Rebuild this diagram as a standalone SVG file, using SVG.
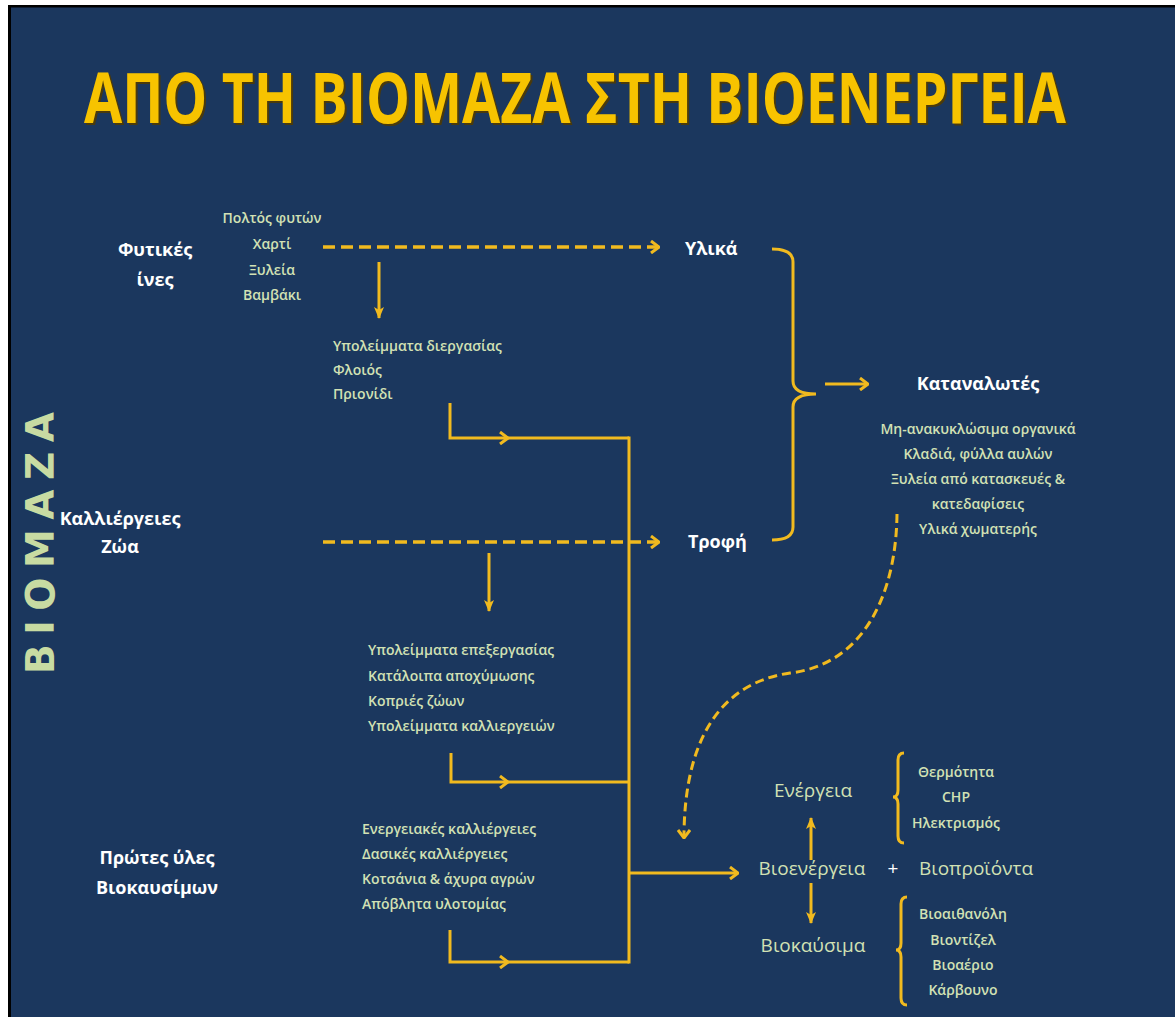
<svg xmlns="http://www.w3.org/2000/svg" width="1175" height="1017" viewBox="0 0 1175 1017">
<defs>
<style>
.bg{fill:#1b375e}
.ln{fill:none;stroke:#f1ba1f;stroke-width:3}
.dash{fill:none;stroke:#f1ba1f;stroke-width:3.5;stroke-dasharray:12 6}
.cdash{fill:none;stroke:#f1ba1f;stroke-width:3;stroke-dasharray:9 5}
.w{font-family:"Open Sans","Liberation Sans",sans-serif;font-weight:700;font-size:18px;fill:#ffffff}
.g{font-family:"Open Sans","Liberation Sans",sans-serif;font-weight:600;font-size:14px;fill:#d2e1b4}
.gl{font-family:"Open Sans","Liberation Sans",sans-serif;font-weight:500;font-size:19px;fill:#d2e1b4}
.mid{text-anchor:middle}
.ttl{font-family:"Open Sans","Liberation Sans",sans-serif;font-weight:700;font-size:70px}
</style>
<marker id="chev" markerUnits="userSpaceOnUse" viewBox="0 0 10 14" refX="9" refY="7" markerWidth="10" markerHeight="14" orient="auto">
<path d="M1,1 L9,7 L1,13" fill="none" stroke="#f1ba1f" stroke-width="3"/>
</marker>
<marker id="tri" markerUnits="userSpaceOnUse" viewBox="0 0 12 10" refX="11" refY="5" markerWidth="12" markerHeight="10" orient="auto">
<path d="M0,0 L12,5 L0,10 L3,5 z" fill="#f1ba1f"/>
</marker>
</defs>
<rect x="0" y="0" width="1175" height="1017" fill="#ffffff"/>
<rect x="8" y="5" width="1167" height="1012" fill="#000000"/>
<rect class="bg" x="11" y="7.5" width="1164" height="1010"/>

<g id="title">
<text class="ttl" transform="translate(86,125) scale(0.74,1)" x="0" y="0" textLength="1327" lengthAdjust="spacingAndGlyphs" fill="#4a3a0c">ΑΠΟ ΤΗ ΒΙΟΜΑΖΑ ΣΤΗ ΒΙΟΕΝΕΡΓΕΙΑ</text>
<text class="ttl" transform="translate(84,123) scale(0.74,1)" x="0" y="0" textLength="1327" lengthAdjust="spacingAndGlyphs" fill="#f7c300">ΑΠΟ ΤΗ ΒΙΟΜΑΖΑ ΣΤΗ ΒΙΟΕΝΕΡΓΕΙΑ</text>
</g>

<g id="biomaza">
<text transform="translate(54,543) rotate(-90)" text-anchor="middle" textLength="262" lengthAdjust="spacing" font-family="DejaVu Sans, Verdana, sans-serif" font-weight="700" font-size="39" fill="#c8dba2">ΒΙΟΜΑΖΑ</text>
</g>

<g id="connectors">
<path class="dash" d="M323 247 H659" marker-end="url(#chev)"/>
<path class="dash" d="M323 542 H659" marker-end="url(#chev)"/>
<path class="ln" d="M379 262 V318" marker-end="url(#tri)"/>
<path class="ln" d="M489 553 V611" marker-end="url(#tri)"/>
<path class="ln" d="M450 403 V438 H508" marker-end="url(#chev)"/>
<path class="ln" d="M506 438 H629"/>
<path class="ln" d="M451 753 V782 H508" marker-end="url(#chev)"/>
<path class="ln" d="M506 782 H629"/>
<path class="ln" d="M450 930 V962 H508" marker-end="url(#chev)"/>
<path class="ln" d="M506 962 H629"/>
<path class="ln" d="M629 436.5 V963.5"/>
<path class="ln" d="M629 873 H738" marker-end="url(#chev)"/>
<path class="ln" d="M825 384 H868" marker-end="url(#chev)"/>
<path class="cdash" d="M897 514 C896 600 860 665 790 673 C720 683 684 740 684 838" marker-end="url(#chev)"/>
<path class="ln" d="M811 860 V818" marker-end="url(#tri)"/>
<path class="ln" d="M811 883 V923" marker-end="url(#tri)"/>
</g>

<g id="brace-main">
<path class="ln" d="M772 249 Q793 249 793 262 V381 Q793 394 816 394 Q793 394 793 407 V527 Q793 540 772 540"/>
</g>
<g id="brace-energy">
<path class="ln" d="M904 753 Q898 753 898 760 V790 Q898 797 893 797 Q898 797 898 804 V836 Q898 843 904 843"/>
</g>
<g id="brace-fuels">
<path class="ln" d="M907 897 Q901 897 901 904 V943 Q901 950 896 950 Q901 950 901 957 V998 Q901 1005 907 1005"/>
</g>

<g id="fytikes-ines">
<text class="w mid" x="155" y="256">Φυτικές</text>
<text class="w mid" x="155" y="286">ίνες</text>
</g>
<g id="fytikes-products">
<text class="g mid" x="272" y="223">Πολτός φυτών</text>
<text class="g mid" x="272" y="249">Χαρτί</text>
<text class="g mid" x="272" y="275">Ξυλεία</text>
<text class="g mid" x="272" y="300">Βαμβάκι</text>
</g>
<g id="ypoleimmata-diergasias">
<text class="g" x="333" y="351">Υπολείμματα διεργασίας</text>
<text class="g" x="333" y="375">Φλοιός</text>
<text class="g" x="333" y="399">Πριονίδι</text>
</g>
<g id="ylika"><text class="w" x="685" y="255">Υλικά</text></g>
<g id="trofi"><text class="w" x="688" y="548">Τροφή</text></g>
<g id="kalliergeies-zoa">
<text class="w mid" x="120" y="525">Καλλιέργειες</text>
<text class="w mid" x="120" y="553">Ζώα</text>
</g>
<g id="ypoleimmata-epexergasias">
<text class="g" x="368" y="655">Υπολείμματα επεξεργασίας</text>
<text class="g" x="368" y="681">Κατάλοιπα αποχύμωσης</text>
<text class="g" x="368" y="706">Κοπριές ζώων</text>
<text class="g" x="368" y="731">Υπολείμματα καλλιεργειών</text>
</g>
<g id="protes-yles">
<text class="w mid" x="157" y="864">Πρώτες ύλες</text>
<text class="w mid" x="157" y="894">Βιοκαυσίμων</text>
</g>
<g id="energeiakes">
<text class="g" x="362" y="834">Ενεργειακές καλλιέργειες</text>
<text class="g" x="362" y="859">Δασικές καλλιέργειες</text>
<text class="g" x="362" y="884">Κοτσάνια &amp; άχυρα αγρών</text>
<text class="g" x="362" y="909">Απόβλητα υλοτομίας</text>
</g>
<g id="katanalotes">
<text class="w mid" x="978" y="390">Καταναλωτές</text>
<text class="g mid" x="978" y="434">Μη-ανακυκλώσιμα οργανικά</text>
<text class="g mid" x="978" y="459">Κλαδιά, φύλλα αυλών</text>
<text class="g mid" x="978" y="484">Ξυλεία από κατασκευές &amp;</text>
<text class="g mid" x="978" y="509">κατεδαφίσεις</text>
<text class="g mid" x="978" y="534">Υλικά χωματερής</text>
</g>
<g id="energeia"><text class="gl mid" x="813" y="797">Ενέργεια</text></g>
<g id="energy-outputs">
<text class="g mid" x="956" y="777">Θερμότητα</text>
<text class="g mid" x="956" y="802">CHP</text>
<text class="g mid" x="956" y="828">Ηλεκτρισμός</text>
</g>
<g id="bioenergeia"><text class="gl mid" x="812" y="875">Βιοενέργεια</text></g>
<g id="plus"><text class="gl mid" x="893" y="875" style="fill:#ffffff">+</text></g>
<g id="bioproionta"><text class="gl mid" x="976" y="875">Βιοπροϊόντα</text></g>
<g id="biokausima"><text class="gl mid" x="813" y="952">Βιοκαύσιμα</text></g>
<g id="fuel-outputs">
<text class="g mid" x="963" y="919">Βιοαιθανόλη</text>
<text class="g mid" x="963" y="945">Βιοντίζελ</text>
<text class="g mid" x="963" y="970">Βιοαέριο</text>
<text class="g mid" x="963" y="995">Κάρβουνο</text>
</g>
</svg>
